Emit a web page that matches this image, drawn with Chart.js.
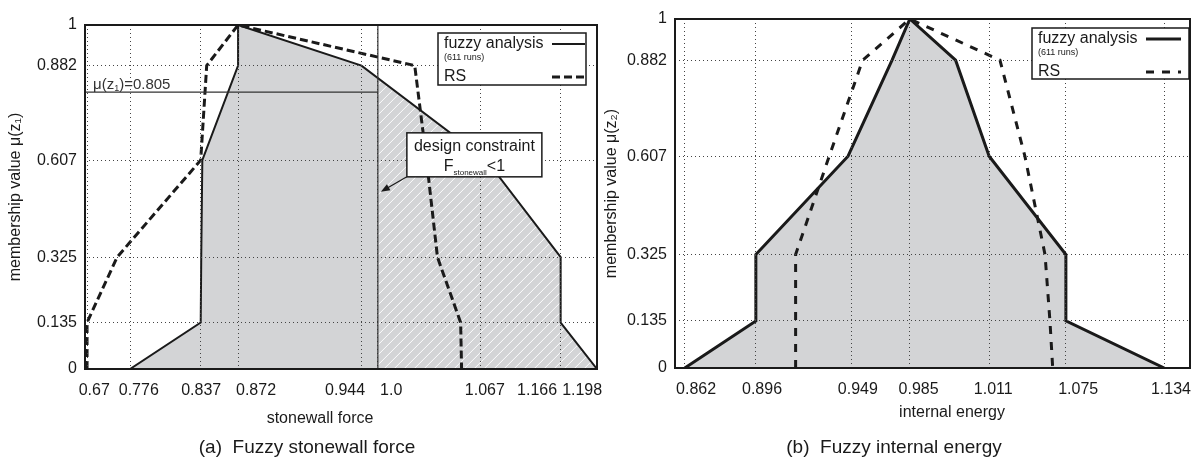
<!DOCTYPE html>
<html>
<head>
<meta charset="utf-8">
<title>Fuzzy stonewall force / fuzzy internal energy</title>
<script src="https://cdn.jsdelivr.net/npm/chart.js@4.4.1/dist/chart.umd.min.js"></script>
<style>
  html, body { margin: 0; padding: 0; background: #fff; overflow: hidden; }
  body { width: 1198px; height: 461px; position: relative;
         font-family: "Liberation Sans", Arial, Helvetica, sans-serif; color: #1a1a1a; }
  canvas { position: absolute; top: 0; }
  #forceChart { left: 0; }
  #energyChart { left: 600px; }
  .note { position: absolute; white-space: pre; transform: translate(-50%, -50%); }
  .xtitle { font-size: 16px; }
  .caption { font-size: 19px; }
</style>
</head>
<body>
<canvas id="forceChart" width="620" height="461"></canvas>
<canvas id="energyChart" width="610" height="461"></canvas>
<div class="note xtitle" style="left:320px; top:418px;">stonewall force</div>
<div class="note caption" style="left:307px; top:447px;">(a)  Fuzzy stonewall force</div>
<div class="note xtitle" style="left:952px; top:412px;">internal energy</div>
<div class="note caption" style="left:894px; top:447px;">(b)  Fuzzy internal energy</div>
<script>
// alpha levels of both membership functions
const muLevels = [0, 0.135, 0.325, 0.607, 0.882, 1];
const muLabels = ['0', '0.135', '0.325', '0.607', '0.882', '1'];
const fuzzyRuns = 611;

// (a) stonewall force, interval bounds per alpha level
const forceFuzzyLower = [0.776, 0.837, 0.8375, 0.8385, 0.872, 0.872];
const forceFuzzyUpper = [1.198, 1.166, 1.166, 1.074, 0.944, 0.872];
const forceRsLower = [0.67, 0.67, 0.744, 0.837, 0.8426, 0.872];
const forceRsUpper = [1.0545, 1.0539, 1.0388, 1.0317, 1.024, 0.872];
const forceTicks = [0.67, 0.776, 0.837, 0.872, 0.944, 1.0, 1.067, 1.166, 1.198];
const forceTickLabels = ['0.67', '0.776', '0.837', '0.872', '0.944', '1.0', '1.067', '1.166', '1.198'];
const forceLimit = 1.0;       // design constraint F_stonewall < 1
const forceCutLevel = 0.805;  // membership where the constraint is reached

// (b) internal energy, interval bounds per alpha level
const energyFuzzyLower = [0.862, 0.896, 0.896, 0.947, 0.974, 0.985];
const energyFuzzyUpper = [1.134, 1.075, 1.075, 1.011, 1.0, 0.985];
const energyRsLower = [0.918, 0.918, 0.918, 0.9366, 0.9558, 0.985];
const energyRsUpper = [1.064, 1.0617, 1.0576, 1.0408, 1.020, 0.985];
const energyTicks = [0.862, 0.896, 0.949, 0.985, 1.011, 1.075, 1.134];
const energyTickLabels = ['0.862', '0.896', '0.949', '0.985', '1.011', '1.075', '1.134'];

// the x axes are not uniform: where each tick sits, as a fraction of the plot width
const forceGridFrac = [0.004, 0.088, 0.226, 0.299, 0.540, 0.572, 0.773, 0.929, 1.0];
const forceLabelFrac = [0.018, 0.105, 0.227, 0.334, 0.508, 0.598, 0.781, 0.883, 0.971];
const energyGridFrac = [0.019, 0.157, 0.343, 0.456, 0.610, 0.759, 0.950];
const energyLabelFrac = [0.041, 0.169, 0.355, 0.473, 0.618, 0.783, 0.963];

const ink = '#1a1a1a';
const gridInk = '#444';
const fillGrey = '#d3d4d6';
const family = '"Liberation Sans", Arial, Helvetica, sans-serif';

Chart.defaults.font.family = family;
Chart.defaults.font.size = 16;
Chart.defaults.color = ink;

// piecewise linear lookup, end segments extrapolated
function interp(xs, ys, v) {
  let i = 1;
  while (i < xs.length - 1 && v > xs[i]) i++;
  const t = (v - xs[i - 1]) / (xs[i] - xs[i - 1]);
  return ys[i - 1] + t * (ys[i] - ys[i - 1]);
}

// horizontal axis whose ticks sit at given fractions of its length
class WarpScale extends Chart.LinearScale {
  static id = 'warp';
  static defaults = {};

  determineDataLimits() {
    const { tickValues, tickFrac } = this.options;
    this.min = interp(tickFrac, tickValues, 0);
    this.max = interp(tickFrac, tickValues, 1);
  }
  buildTicks() {
    return this.options.tickValues.map(value => ({ value }));
  }
  getPixelForValue(value) {
    const { tickValues, tickFrac } = this.options;
    return this.left + interp(tickValues, tickFrac, value) * this.width;
  }
  getValueForPixel(pixel) {
    const { tickValues, tickFrac } = this.options;
    return interp(tickFrac, tickValues, (pixel - this.left) / this.width);
  }
}
Chart.register(WarpScale);

// closed membership outline: lower bounds up to the peak, upper bounds back down
function membershipPoints(lower, upper) {
  const up = lower.map((x, i) => ({ x, y: muLevels[i] }));
  const down = upper.map((x, i) => ({ x, y: muLevels[i] })).reverse().slice(1);
  return up.concat(down);
}

// text runs with their own size and baseline shift (for subscripts)
function drawRich(ctx, parts, x, y, align) {
  const widths = parts.map(([t, s]) => { ctx.font = `${s}px ${family}`; return ctx.measureText(t).width; });
  const total = widths.reduce((a, b) => a + b, 0);
  let cx = align === 'center' ? x - total / 2 : x;
  ctx.textAlign = 'left';
  ctx.textBaseline = 'alphabetic';
  parts.forEach(([t, s, dy], i) => {
    ctx.font = `${s}px ${family}`;
    ctx.fillText(t, cx, y + (dy || 0));
    cx += widths[i];
  });
}

const plotFrame = {
  id: 'plotFrame',
  afterDraw(chart) {
    const { ctx, chartArea: a } = chart;
    ctx.save();
    ctx.strokeStyle = ink;
    ctx.lineWidth = 2;
    ctx.strokeRect(a.left, a.top, a.right - a.left, a.bottom - a.top);
    ctx.restore();
  }
};

const legendBox = {
  id: 'legendBox',
  afterDraw(chart, args, opts) {
    const { ctx, chartArea } = chart;
    const [fuzzy, rs] = chart.data.datasets;
    const x1 = chartArea.right - opts.right;
    const x0 = x1 - opts.width;
    const y0 = chartArea.top + opts.top;
    ctx.save();
    ctx.fillStyle = '#fff';
    ctx.fillRect(x0, y0, opts.width, opts.height);
    ctx.strokeStyle = ink;
    ctx.lineWidth = 1.5;
    ctx.strokeRect(x0, y0, opts.width, opts.height);

    ctx.fillStyle = ink;
    ctx.textAlign = 'left';
    ctx.textBaseline = 'middle';
    ctx.font = `16px ${family}`;
    ctx.fillText(fuzzy.label, x0 + 6, y0 + 11);
    ctx.font = `9px ${family}`;
    ctx.fillText(`(${fuzzyRuns} runs)`, x0 + 6, y0 + 25);
    ctx.font = `16px ${family}`;
    ctx.fillText(rs.label, x0 + 6, y0 + 44);

    [[fuzzy, y0 + 11], [rs, y0 + 44]].forEach(([ds, yy]) => {
      ctx.strokeStyle = ds.borderColor;
      ctx.lineWidth = ds.borderWidth;
      ctx.setLineDash(ds.borderDash || []);
      ctx.beginPath();
      ctx.moveTo(x1 - opts.sampleFrom, yy);
      ctx.lineTo(x1 - opts.sampleTo, yy);
      ctx.stroke();
    });
    ctx.restore();
  }
};

// white hatching on the part of the stonewall membership beyond the constraint
const overloadHatch = {
  id: 'overloadHatch',
  beforeDatasetDraw(chart, args) {
    if (chart.data.datasets[args.index].label !== 'fuzzy analysis') return;
    const { ctx, chartArea: a, scales: { x, y } } = chart;
    const pts = args.meta.data;
    const base = y.getPixelForValue(0);
    const xc = x.getPixelForValue(forceLimit);
    ctx.save();
    ctx.beginPath();
    ctx.moveTo(pts[0].x, base);
    pts.forEach(p => ctx.lineTo(p.x, p.y));
    ctx.lineTo(pts[pts.length - 1].x, base);
    ctx.closePath();
    ctx.clip();
    ctx.beginPath();
    ctx.rect(xc, a.top, a.right - xc, a.bottom - a.top);
    ctx.clip();
    ctx.strokeStyle = 'rgba(255,255,255,0.95)';
    ctx.lineWidth = 1;
    ctx.beginPath();
    const h = a.bottom - a.top;
    for (let s = xc - h; s < a.right; s += 10) {
      ctx.moveTo(s, a.bottom);
      ctx.lineTo(s + h, a.top);
    }
    ctx.stroke();
    ctx.restore();
  }
};

const constraintMarks = {
  id: 'constraintMarks',
  afterDraw(chart) {
    const { ctx, chartArea: a, scales: { x, y } } = chart;
    const xc = x.getPixelForValue(forceLimit);
    const yc = y.getPixelForValue(forceCutLevel);
    ctx.save();
    ctx.strokeStyle = '#333';
    ctx.lineWidth = 1.2;
    ctx.beginPath();
    ctx.moveTo(xc, a.top);
    ctx.lineTo(xc, a.bottom);
    ctx.moveTo(a.left, yc);
    ctx.lineTo(xc, yc);
    ctx.stroke();

    ctx.fillStyle = '#333';
    drawRich(ctx, [['μ(z', 15], ['1', 9, 2], [')=' + forceCutLevel.toFixed(3), 15]], a.left + 8, yc - 3, 'left');

    // callout pointing at the constraint line
    const tipX = xc + 3;
    const tipY = y.getPixelForValue(0.515);
    const bx = tipX + 26, by = tipY - 59, bw = 135, bh = 44;
    ctx.strokeStyle = ink;
    ctx.fillStyle = ink;
    ctx.lineWidth = 1.2;
    const ang = Math.atan2(tipY - (by + bh), tipX - bx);
    ctx.beginPath();
    ctx.moveTo(bx, by + bh);
    ctx.lineTo(tipX - 7 * Math.cos(ang), tipY - 7 * Math.sin(ang));
    ctx.stroke();
    ctx.beginPath();
    ctx.moveTo(tipX, tipY);
    ctx.lineTo(tipX - 9 * Math.cos(ang) + 3.5 * Math.sin(ang), tipY - 9 * Math.sin(ang) - 3.5 * Math.cos(ang));
    ctx.lineTo(tipX - 9 * Math.cos(ang) - 3.5 * Math.sin(ang), tipY - 9 * Math.sin(ang) + 3.5 * Math.cos(ang));
    ctx.closePath();
    ctx.fill();

    ctx.fillStyle = '#fff';
    ctx.fillRect(bx, by, bw, bh);
    ctx.lineWidth = 1.5;
    ctx.strokeRect(bx, by, bw, bh);
    ctx.fillStyle = ink;
    drawRich(ctx, [['design constraint', 16]], bx + bw / 2, by + 18, 'center');
    drawRich(ctx, [['F', 16], ['stonewall', 8, 4], ['<1', 16]], bx + bw / 2, by + 38, 'center');
    ctx.restore();
  }
};

function makeMembershipChart(canvasId, cfg) {
  const canvas = document.getElementById(canvasId);
  return new Chart(canvas, {
    type: 'line',
    data: {
      datasets: [
        {
          label: 'fuzzy analysis',
          data: membershipPoints(cfg.fuzzyLower, cfg.fuzzyUpper),
          xAxisID: 'x',
          borderColor: ink,
          borderWidth: cfg.fuzzyWidth,
          backgroundColor: fillGrey,
          fill: 'origin',
          pointRadius: 0,
          tension: 0,
          order: 2
        },
        {
          label: 'RS',
          data: membershipPoints(cfg.rsLower, cfg.rsUpper),
          xAxisID: 'x',
          borderColor: ink,
          borderWidth: 3,
          borderDash: cfg.rsDash,
          fill: false,
          pointRadius: 0,
          tension: 0,
          order: 1
        }
      ]
    },
    options: {
      responsive: false,
      animation: false,
      events: [],
      layout: { padding: { top: cfg.top, right: canvas.width - cfg.right, left: 0, bottom: 0 } },
      plugins: {
        legend: { display: false },
        tooltip: { enabled: false },
        legendBox: cfg.legend
      },
      scales: {
        x: {
          type: 'warp',
          position: 'bottom',
          tickValues: cfg.ticks,
          tickFrac: cfg.gridFrac,
          ticks: { display: false },
          grid: { color: gridInk, lineWidth: 1, drawTicks: false, z: 1 },
          border: { display: false, dash: [1, 3] },
          afterFit: s => { s.height = 0; }
        },
        xl: {
          type: 'warp',
          position: 'bottom',
          tickValues: cfg.ticks,
          tickFrac: cfg.labelFrac,
          grid: { display: false, drawTicks: false },
          border: { display: false },
          ticks: {
            callback: (v, i) => cfg.tickLabels[i],
            padding: 12,
            autoSkip: false,
            maxRotation: 0,
            font: { size: 16 }
          },
          afterFit: s => { s.height = canvas.height - cfg.bottom; }
        },
        y: {
          type: 'linear',
          min: 0,
          max: 1,
          afterBuildTicks: axis => { axis.ticks = muLevels.map(value => ({ value })); },
          ticks: { callback: (v, i) => muLabels[i], padding: 8, font: { size: 16 } },
          grid: { color: gridInk, lineWidth: 1, drawTicks: false, z: 1 },
          border: { display: false, dash: [1, 3] },
          title: { display: true, text: cfg.yTitle, font: { size: 16 }, padding: { top: cfg.yTitlePad } },
          afterFit: s => { s.width = cfg.left; }
        }
      }
    },
    plugins: cfg.extraPlugins.concat([plotFrame, legendBox])
  });
}

makeMembershipChart('forceChart', {
  fuzzyLower: forceFuzzyLower, fuzzyUpper: forceFuzzyUpper,
  rsLower: forceRsLower, rsUpper: forceRsUpper,
  ticks: forceTicks, tickLabels: forceTickLabels,
  gridFrac: forceGridFrac, labelFrac: forceLabelFrac,
  fuzzyWidth: 2, rsDash: [8, 4],
  left: 85, right: 597, top: 25, bottom: 369,
  yTitle: 'membership value μ(z₁)', yTitlePad: 6,
  legend: { right: 11, top: 8, width: 148, height: 52, sampleFrom: 34, sampleTo: 1 },
  extraPlugins: [overloadHatch, constraintMarks]
});

makeMembershipChart('energyChart', {
  fuzzyLower: energyFuzzyLower, fuzzyUpper: energyFuzzyUpper,
  rsLower: energyRsLower, rsUpper: energyRsUpper,
  ticks: energyTicks, tickLabels: energyTickLabels,
  gridFrac: energyGridFrac, labelFrac: energyLabelFrac,
  fuzzyWidth: 3, rsDash: [8, 8],
  left: 75, right: 590, top: 19, bottom: 368,
  yTitle: 'membership value μ(z₂)', yTitlePad: 1.5,
  legend: { right: 1, top: 9, width: 157, height: 51, sampleFrom: 43, sampleTo: 8 },
  extraPlugins: []
});
</script>
</body>
</html>
